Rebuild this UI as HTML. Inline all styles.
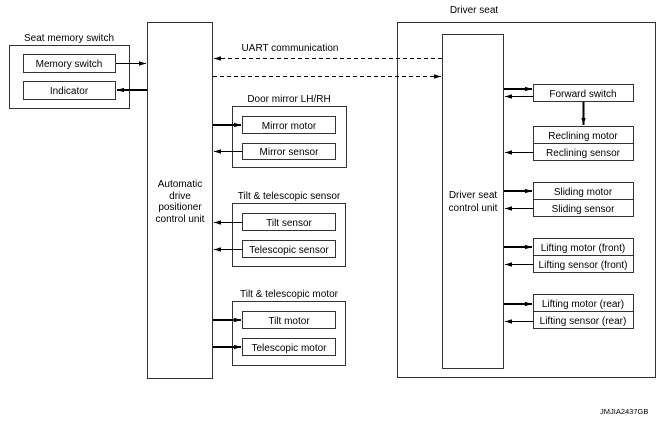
<!DOCTYPE html>
<html><head><meta charset="utf-8"><style>
html,body{margin:0;padding:0;background:#fff;}
svg{display:block;}
text{font-family:"Liberation Sans",sans-serif;font-size:10px;fill:#000;}
</style></head><body>
<svg width="664" height="423" viewBox="0 0 664 423" xmlns="http://www.w3.org/2000/svg">
<defs>
<marker id="a" markerWidth="8" markerHeight="6" refX="7" refY="3" orient="auto" markerUnits="userSpaceOnUse"><path d="M0,0.8 L7,3 L0,5.2Z" fill="#000"/></marker>
</defs>
<g fill="none" stroke="#333" stroke-width="1">
<rect x="9.5" y="45.5" width="120" height="63"/>
<rect x="23.5" y="54.5" width="92" height="18"/>
<rect x="23.5" y="81.5" width="92" height="18"/>
<rect x="147.5" y="22.5" width="65" height="356"/>
<rect x="232.5" y="106.5" width="114" height="61"/>
<rect x="242.5" y="116.5" width="93" height="17"/>
<rect x="242.5" y="143.5" width="93" height="16"/>
<rect x="232.5" y="203.5" width="113" height="63"/>
<rect x="242.5" y="213.5" width="93" height="17"/>
<rect x="242.5" y="240.5" width="93" height="17"/>
<rect x="232.5" y="301.5" width="113" height="64"/>
<rect x="242.5" y="311.5" width="93" height="17"/>
<rect x="242.5" y="338.5" width="93" height="17"/>
<rect x="397.5" y="22.5" width="258" height="355"/>
<rect x="442.5" y="34.5" width="61" height="334"/>
<rect x="533.5" y="84.5" width="100" height="17"/>
<rect x="533.5" y="126.5" width="100" height="34"/><line x1="533" y1="143.5" x2="634" y2="143.5"/>
<rect x="533.5" y="182.5" width="100" height="34"/><line x1="533" y1="199.5" x2="634" y2="199.5"/>
<rect x="533.5" y="238.5" width="100" height="34"/><line x1="533" y1="255.5" x2="634" y2="255.5"/>
<rect x="533.5" y="294.5" width="100" height="34"/><line x1="533" y1="311.5" x2="634" y2="311.5"/>
</g>
<g stroke="#000" fill="none">
<line x1="116" y1="63.5" x2="146" y2="63.5" stroke-width="1" marker-end="url(#a)"/>
<line x1="147" y1="90" x2="117" y2="90" stroke-width="2" marker-end="url(#a)"/>
<line x1="442" y1="58.5" x2="214" y2="58.5" stroke-dasharray="4,3" marker-end="url(#a)"/>
<line x1="213" y1="76.5" x2="441" y2="76.5" stroke-dasharray="4,3" marker-end="url(#a)"/>
<line x1="213" y1="125" x2="241" y2="125" stroke-width="2" marker-end="url(#a)"/>
<line x1="242" y1="151.5" x2="214" y2="151.5" marker-end="url(#a)"/>
<line x1="242" y1="222.5" x2="214" y2="222.5" marker-end="url(#a)"/>
<line x1="242" y1="249.5" x2="214" y2="249.5" marker-end="url(#a)"/>
<line x1="213" y1="320" x2="241" y2="320" stroke-width="2" marker-end="url(#a)"/>
<line x1="213" y1="347" x2="241" y2="347" stroke-width="2" marker-end="url(#a)"/>
<line x1="504" y1="89" x2="532" y2="89" stroke-width="2" marker-end="url(#a)"/>
<line x1="533" y1="96.5" x2="505" y2="96.5" marker-end="url(#a)"/>
<line x1="583.5" y1="102" x2="583.5" y2="125" stroke-width="2" marker-end="url(#a)"/>
<line x1="533" y1="152.5" x2="505" y2="152.5" marker-end="url(#a)"/>
<line x1="504" y1="191" x2="532" y2="191" stroke-width="2" marker-end="url(#a)"/>
<line x1="533" y1="208.5" x2="505" y2="208.5" marker-end="url(#a)"/>
<line x1="504" y1="247" x2="532" y2="247" stroke-width="2" marker-end="url(#a)"/>
<line x1="533" y1="264.5" x2="505" y2="264.5" marker-end="url(#a)"/>
<line x1="504" y1="304" x2="532" y2="304" stroke-width="2" marker-end="url(#a)"/>
<line x1="533" y1="321.5" x2="505" y2="321.5" marker-end="url(#a)"/>
</g>
<g text-anchor="middle">
<text x="69" y="41">Seat memory switch</text>
<text x="69" y="67">Memory switch</text>
<text x="69" y="94">Indicator</text>
<text x="180" y="187">Automatic</text>
<text x="180" y="199">drive</text>
<text x="180" y="210">positioner</text>
<text x="180" y="222">control unit</text>
<text x="290" y="51">UART communication</text>
<text x="289" y="102">Door mirror LH/RH</text>
<text x="289" y="129">Mirror motor</text>
<text x="289" y="155">Mirror sensor</text>
<text x="289" y="199">Tilt &amp; telescopic sensor</text>
<text x="289" y="226">Tilt sensor</text>
<text x="289" y="253">Telescopic sensor</text>
<text x="289" y="297">Tilt &amp; telescopic motor</text>
<text x="289" y="324">Tilt motor</text>
<text x="289" y="351">Telescopic motor</text>
<text x="474" y="13">Driver seat</text>
<text x="473" y="198">Driver seat</text>
<text x="473" y="211">control unit</text>
<text x="583" y="97">Forward switch</text>
<text x="583" y="139">Reclining motor</text>
<text x="583" y="156">Reclining sensor</text>
<text x="583" y="195">Sliding motor</text>
<text x="583" y="212">Sliding sensor</text>
<text x="583" y="251">Lifting motor (front)</text>
<text x="583" y="268">Lifting sensor (front)</text>
<text x="583" y="307">Lifting motor (rear)</text>
<text x="583" y="324">Lifting sensor (rear)</text>
</g>
<text x="600" y="414" style="font-size:7.5px">JMJIA2437GB</text>
</svg>
</body></html>
